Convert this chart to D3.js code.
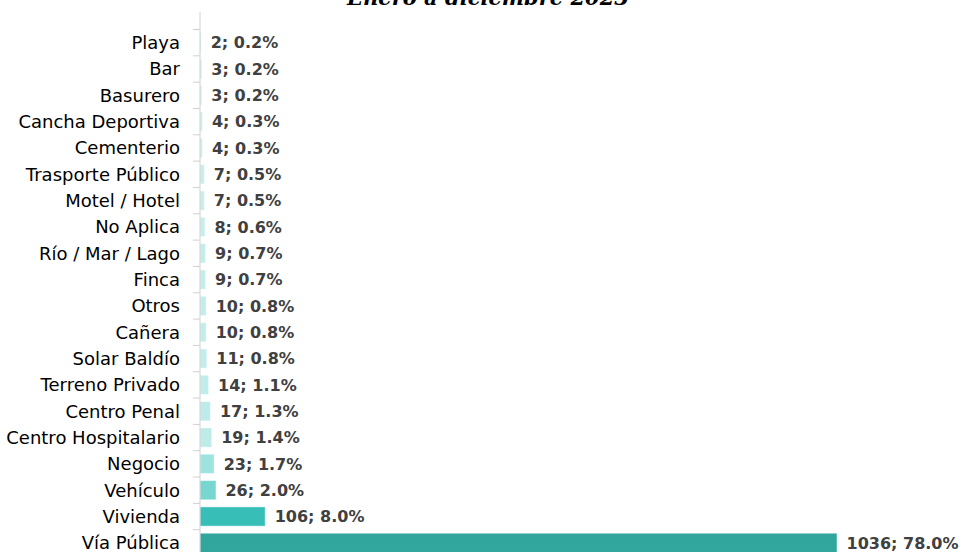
<!DOCTYPE html>
<html>
<head>
<meta charset="utf-8">
<script src="https://cdn.jsdelivr.net/npm/d3@7"></script>
<style>
  body { margin: 0; background: #fff; }
  .cat text { font-family: "DejaVu Sans", sans-serif; font-size: 18px; fill: #000; }
  .val { font-family: "DejaVu Sans", sans-serif; font-size: 16px; font-weight: bold; fill: #404040; }
  .title { font-family: "DejaVu Serif", serif; font-size: 21px; font-weight: bold; font-style: italic; fill: #000; }
</style>
</head>
<body>
<div id="chart"></div>
<script>
// Width and height of the page
var width = 964;
var height = 552;

// chart data, top to bottom
var categories = ["Playa", "Bar", "Basurero", "Cancha Deportiva", "Cementerio",
  "Trasporte Público", "Motel / Hotel", "No Aplica", "Río / Mar / Lago", "Finca",
  "Otros", "Cañera", "Solar Baldío", "Terreno Privado", "Centro Penal",
  "Centro Hospitalario", "Negocio", "Vehículo", "Vivienda", "Vía Pública"];
var counts = [2, 3, 3, 4, 4, 7, 7, 8, 9, 9, 10, 10, 11, 14, 17, 19, 23, 26, 106, 1036];
var percents = ["0.2%", "0.2%", "0.2%", "0.3%", "0.3%", "0.5%", "0.5%", "0.6%", "0.7%", "0.7%",
  "0.8%", "0.8%", "0.8%", "1.1%", "1.3%", "1.4%", "1.7%", "2.0%", "8.0%", "78.0%"];
var title = "Enero a diciembre 2023";

var rows = categories.map(function(c, i) {
  return { cat: c, n: counts[i], pct: percents[i] };
});

var svg = d3.select("#chart")
  .append("svg")
  .attr("width", width)
  .attr("height", height);

var x = d3.scaleLinear()
  .domain([0, d3.max(counts)])
  .range([200, 837]);

var y = d3.scaleBand()
  .domain(categories)
  .range([29.5, 556])
  .paddingInner(0.27)
  .paddingOuter(0.135);

// colour ramps up with the count
var color = d3.scaleLinear()
  .domain([2, 19, 23, 26, 106, 1036])
  .range(["#c8efed", "#bdebe8", "#9ee3de", "#77d7d0", "#37bfb7", "#30a69d"]);

// title (cut at the top in the original)
svg.append("text")
  .attr("class", "title")
  .attr("x", 488)
  .attr("y", 5)
  .attr("text-anchor", "middle")
  .text(title);

// bars
svg.selectAll("rect.bar")
  .data(rows)
  .enter()
  .append("rect")
  .attr("class", "bar")
  .attr("x", x(0))
  .attr("y", function(d) { return y(d.cat); })
  .attr("width", function(d) { return x(d.n) - x(0); })
  .attr("height", y.bandwidth())
  .style("fill", function(d) { return color(d.n); })
  .style("stroke", "#ffffff")
  .style("stroke-opacity", 0.45)
  .style("stroke-width", 1);

// value labels
svg.selectAll("text.val")
  .data(rows)
  .enter()
  .append("text")
  .attr("class", "val")
  .attr("x", function(d) { return x(d.n) + 9.5; })
  .attr("y", function(d) { return y(d.cat) + y.bandwidth() / 2; })
  .attr("dy", "0.36em")
  .text(function(d) { return d.n + "; " + d.pct; });

// category axis: labels only
var axis = svg.append("g")
  .attr("class", "cat")
  .attr("transform", "translate(" + x(0) + ",0)")
  .call(d3.axisLeft(y).tickSize(0).tickPadding(20));
axis.select(".domain").remove();
axis.selectAll("text").attr("dy", "0.36em");

// axis line and ticks between categories
svg.append("line")
  .attr("x1", x(0)).attr("x2", x(0))
  .attr("y1", 12).attr("y2", height)
  .style("stroke", "#d0d0d0")
  .style("stroke-width", 1);

var step = y.step();
var bounds = d3.range(categories.length + 1).map(function(i) { return y.range()[0] + i * step; });
svg.selectAll("line.tick")
  .data(bounds)
  .enter()
  .append("line")
  .attr("class", "tick")
  .attr("x1", x(0) - 7).attr("x2", x(0))
  .attr("y1", function(d) { return d; })
  .attr("y2", function(d) { return d; })
  .style("stroke", "#d0d0d0")
  .style("stroke-width", 1);
</script>
</body>
</html>
